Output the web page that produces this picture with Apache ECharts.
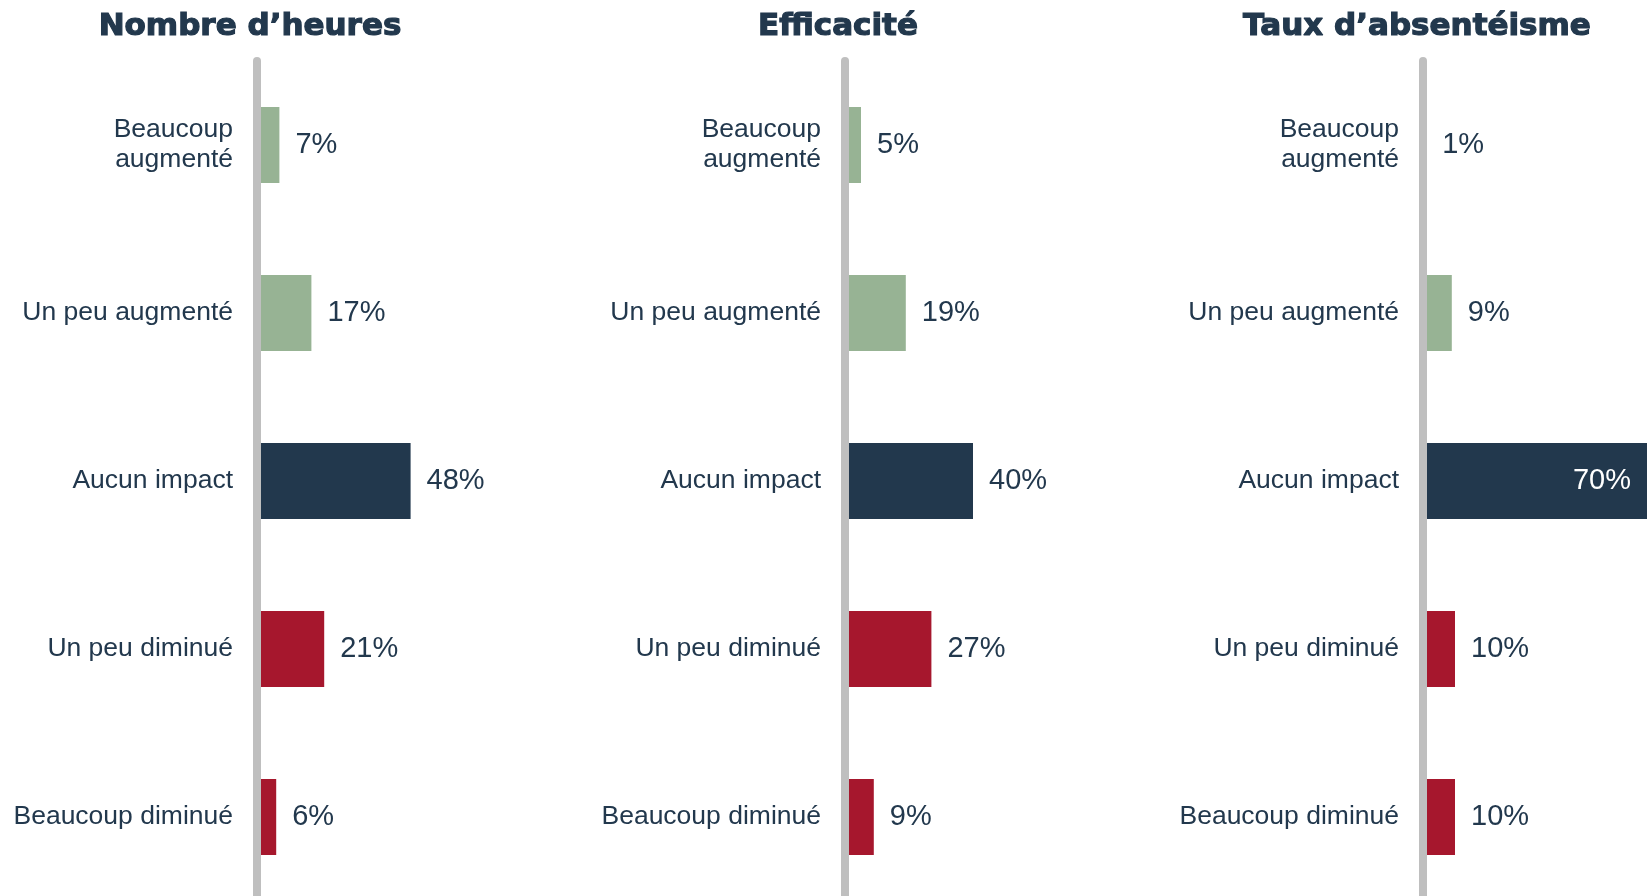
<!DOCTYPE html>
<html lang="fr">
<head>
<meta charset="utf-8">
<title>Impact</title>
<script src="https://cdn.jsdelivr.net/npm/echarts@6/dist/echarts.min.js"></script>
<style>
  html, body { margin: 0; padding: 0; background: #fff; }
  #chart { width: 1648px; height: 896px; }
</style>
</head>
<body>
<div id="chart"></div>
<script>
// categories, top to bottom
const categories = ['Beaucoup\naugmenté', 'Un peu augmenté', 'Aucun impact', 'Un peu diminué', 'Beaucoup diminué'];
const panelTitles = ['Nombre d’heures', 'Efficacité', 'Taux d’absentéisme'];

// values in %
const heuresValues = [7, 17, 48, 21, 6];
const efficaciteValues = [5, 19, 40, 27, 9];
const absenteismeValues = [1, 9, 70, 10, 10];

const panelValues = [heuresValues, efficaciteValues, absenteismeValues];

const GREEN = '#97b394';
const NAVY = '#22384d';
const RED = '#a6172d';
const TEXT = '#22384d';
const barColors = [GREEN, GREEN, NAVY, RED, RED];

// x of each vertical axis line
const axisX = [257, 845, 1423];
const titleX = [250, 838, 1417];

const chart = echarts.init(document.getElementById('chart'), null, { renderer: 'canvas' });

const buildOption = () => {
    const grid = [], xAxis = [], yAxis = [], series = [], title = [];

    panelValues.forEach((vals, i) => {
        title.push({
            text: panelTitles[i],
            left: titleX[i],
            top: 11,
            textAlign: 'center',
            padding: 0,
            textStyle: {
                color: TEXT,
                fontFamily: 'DejaVu Sans',
                fontWeight: 'bold',
                fontSize: 31,
                textBorderColor: TEXT,
                textBorderWidth: 1.2,
            },
        });

        // same px per % in every panel (224px for 70%); runs past the bottom edge
        grid.push({
            left: axisX[i],
            top: 61,
            width: 224,
            height: 840,
            containLabel: false,
            outerBoundsMode: 'none',
        });

        xAxis.push({
            type: 'value',
            gridIndex: i,
            min: 0,
            max: 70,
            show: false,
        });

        yAxis.push({
            type: 'category',
            gridIndex: i,
            data: categories,
            inverse: true,
            z: 5,
            axisLine: { show: true, lineStyle: { color: '#bfbfbf', width: 8 } },
            axisTick: { show: false },
            splitLine: { show: false },
            axisLabel: {
                color: TEXT,
                fontFamily: 'Liberation Sans, Arial, sans-serif',
                fontSize: 26.5,
                lineHeight: 30,
                margin: 24,
                align: 'right',
                padding: [4, 0, 0, 0],
            },
        });

        series.push({
            type: 'bar',
            xAxisIndex: i,
            yAxisIndex: i,
            barWidth: 76,
            z: 2,
            data: vals.map((v, k) => {
                const inside = v > 60;
                return {
                    value: v,
                    itemStyle: { color: barColors[k] },
                    label: inside
                        ? { position: 'insideRight', distance: 16, color: '#fff' }
                        : { position: 'right', distance: 16, color: TEXT },
                };
            }),
            label: {
                show: true,
                formatter: '{c}%',
                fontFamily: 'Liberation Sans, Arial, sans-serif',
                fontSize: 29,
                padding: [4, 0, 0, 0],
            },
            animation: false,
        });
    });

    return {
        backgroundColor: '#fff',
        animation: false,
        title,
        grid,
        xAxis,
        yAxis,
        series,
    };
};

chart.setOption(buildOption(), { notMerge: true });
</script>
</body>
</html>
